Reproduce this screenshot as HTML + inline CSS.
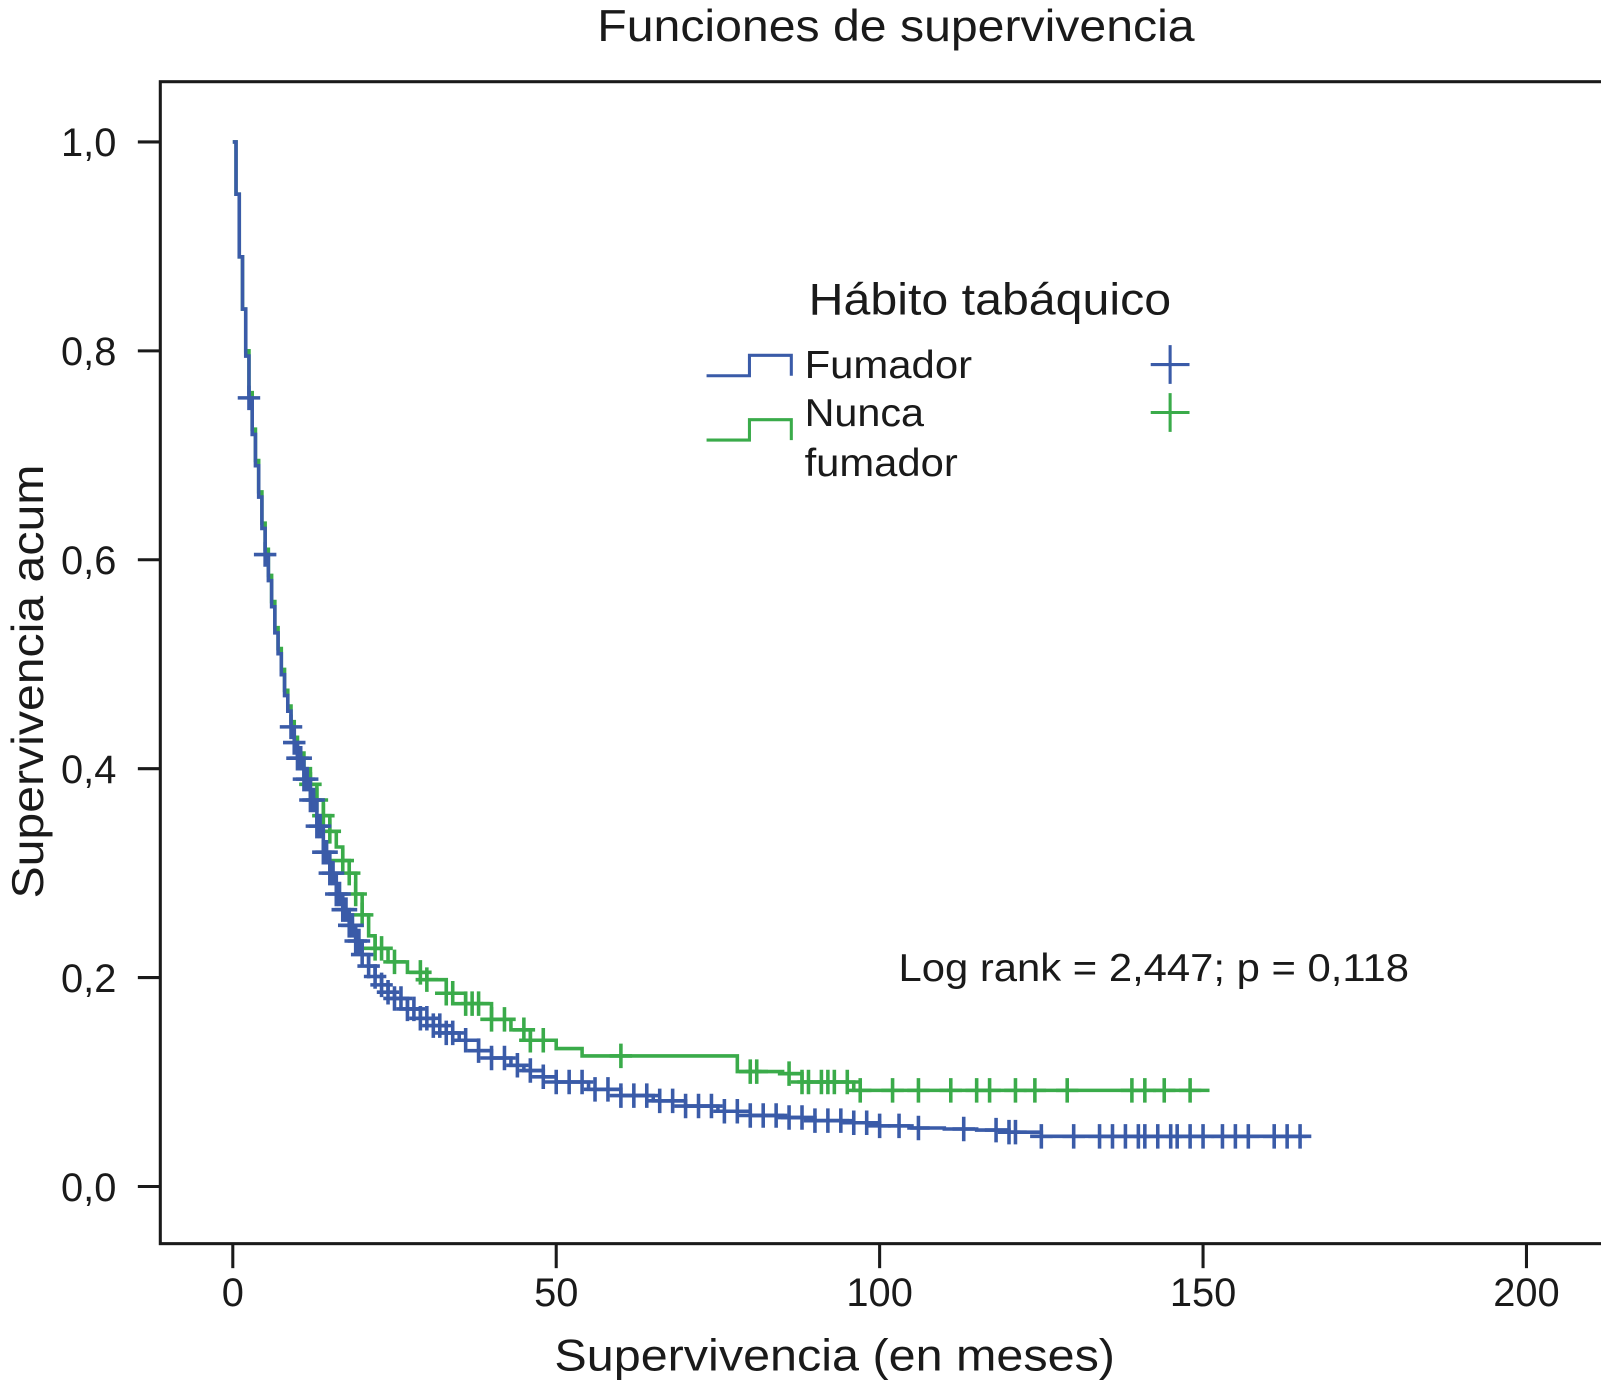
<!DOCTYPE html>
<html><head><meta charset="utf-8"><style>
html,body{margin:0;padding:0;background:#fff}
svg{display:block}
text{font-family:"Liberation Sans",Arial,sans-serif;fill:#1a1a1a}
</style></head><body>
<svg id="chart" width="1601" height="1381" viewBox="0 0 1568 1352.5" xmlns="http://www.w3.org/2000/svg">
<text x="585" y="40" font-size="44" textLength="585" lengthAdjust="spacingAndGlyphs">Funciones de supervivencia</text>
<rect x="157" y="80" width="1420" height="1138" fill="none" stroke="#1a1a1a" stroke-width="3"/>
<g id="axes"></g>
<g id="curves"></g>
<text x="543" y="1342" font-size="44" textLength="549" lengthAdjust="spacingAndGlyphs">Supervivencia (en meses)</text>
<text transform="translate(42,880) rotate(-90)" font-size="44" textLength="425" lengthAdjust="spacingAndGlyphs">Supervivencia acum</text>
<g>
<text x="792" y="308" font-size="44" textLength="355" lengthAdjust="spacingAndGlyphs">Hábito tabáquico</text>
<path d="M692,368 H734 V348 H775 V368" fill="none" stroke="#3a5ba8" stroke-width="3"/>
<text x="788" y="370" font-size="38" textLength="164" lengthAdjust="spacingAndGlyphs">Fumador</text>
<path d="M1127,357 H1165 M1146,338 V376" stroke="#3a5ba8" stroke-width="3"/>
<path d="M692,431 H734 V411 H775 V431" fill="none" stroke="#3aab4a" stroke-width="3"/>
<text x="788" y="417" font-size="38" textLength="117" lengthAdjust="spacingAndGlyphs">Nunca</text>
<text x="788" y="466" font-size="38" textLength="150" lengthAdjust="spacingAndGlyphs">fumador</text>
<path d="M1127,404 H1165 M1146,385 V423" stroke="#3aab4a" stroke-width="3"/>
</g>
<text x="880" y="961" font-size="38" textLength="500" lengthAdjust="spacingAndGlyphs">Log rank = 2,447; p = 0,118</text>
</svg>
<script>
const xTicks=[0,50,100,150,200];
const yTicks=[0,0.2,0.4,0.6,0.8,1.0];
const yTickLabels=["0,0","0,2","0,4","0,6","0,8","1,0"];
const fumTimes=[0,0.5,1,1.5,2,2.5,3,3.5,4,4.5,5,5.5,6,6.5,7,7.5,8,8.5,9,9.5,10,11,12,13,14,15,16,17,18,19,20,21,22,23,24,25,27,29,31,33,35,38,40,43,45,48,50,55,60,65,70,75,80,85,90,95,100,105,110,115,120,125,166];
const fumSurv=[1.0,0.95,0.89,0.84,0.795,0.755,0.72,0.69,0.66,0.63,0.605,0.58,0.555,0.53,0.51,0.49,0.47,0.455,0.44,0.425,0.41,0.39,0.37,0.345,0.32,0.30,0.28,0.265,0.25,0.235,0.222,0.211,0.201,0.193,0.186,0.18,0.17,0.161,0.154,0.147,0.14,0.13,0.123,0.116,0.111,0.105,0.10,0.093,0.087,0.082,0.077,0.072,0.068,0.066,0.063,0.061,0.058,0.056,0.055,0.054,0.052,0.048,0.048];
const nunTimes=[0,0.5,1,1.5,2,2.5,3,3.5,4,4.5,5,5.5,6,6.5,7,7.5,8,8.5,9,9.5,10,11,12,13,14,15,16,17,18,19,20,21,22,24,27,30,33,36,40,43,46,50,54,77,78,85,88,96,151];
const nunSurv=[1.0,0.95,0.89,0.84,0.80,0.76,0.725,0.695,0.665,0.635,0.61,0.585,0.56,0.535,0.515,0.495,0.475,0.46,0.445,0.43,0.415,0.40,0.385,0.37,0.355,0.34,0.325,0.312,0.30,0.28,0.26,0.24,0.228,0.215,0.205,0.198,0.185,0.175,0.16,0.15,0.14,0.132,0.125,0.125,0.11,0.108,0.1,0.092,0.092];
const fumCensor=[2.5,5,9,9.5,10,10.5,11,11.5,12,12.5,13,13.5,14,14.5,15,15.5,16,16.5,17,17.5,18,18.5,19,19.5,20,21,22,23,24,25,26,27,28,29,30,31,32,33,34,36,38,40,42,44,46,48,50,52,54,56,58,60,62,64,66,68,70,72,74,76,78,80,82,84,86,88,90,92,94,96,98,100,103,106,113,118,120,121,125,130,134,136,138,140,141,143,145,146,148,150,153,155,157,161,163,165];
const nunCensor=[12,13,14,15,17,18,19,20,22,23,25,29,30,33,34,36,37,38,40,42,45,46,48,60,80,81,86,88,89,91,92,93,95,97,102,106,111,115,117,121,124,129,139,141,144,148];
const X=t=>228+t*(1495-228)/200;
const Y=s=>1162-s*(1162-139);
const NS="http://www.w3.org/2000/svg";
const axes=document.getElementById('axes');
const curves=document.getElementById('curves');
function mk(tag,attrs,parent){const e=document.createElementNS(NS,tag);for(const k in attrs)e.setAttribute(k,attrs[k]);parent.appendChild(e);return e;}
xTicks.forEach(v=>{
 const l=mk('line',{x1:X(v),x2:X(v),y1:1218,y2:1242,stroke:'#1a1a1a','stroke-width':3},axes);
 
 
 const t=mk('text',{x:X(v),y:1279,'font-size':39,'text-anchor':'middle'},axes);
 t.textContent=v;
 
 
});
yTicks.forEach((v,i)=>{
 const l=mk('line',{x1:135,x2:157,y1:Y(v),y2:Y(v),stroke:'#1a1a1a','stroke-width':3},axes);
 
 
 const t=mk('text',{x:114,y:Y(v)+14,'font-size':39,'text-anchor':'end'},axes);
 t.textContent=yTickLabels[i];
 
 
});
function surv(times,vals,t){let s=vals[0];for(let i=0;i<times.length;i++){if(times[i]<=t)s=vals[i];}return s;}
function drawCurve(times,vals,cens,color,name){
 let d='M'+X(times[0])+','+Y(vals[0]);
 for(let i=1;i<times.length;i++){d+=' H'+X(times[i])+' V'+Y(vals[i]);}
 const p=mk('path',{d:d,fill:'none',stroke:color,'stroke-width':3.5},curves);
 
 
 cens.forEach(t=>{
  const x=X(t),y=Y(surv(times,vals,t));
  const c=mk('path',{d:`M${x-11},${y} H${x+11} M${x},${y-12} V${y+12}`,stroke:color,'stroke-width':3.5},curves);
  
  
 });
}
drawCurve(nunTimes,nunSurv,nunCensor,'#3aab4a','nunca-fumador');
drawCurve(fumTimes,fumSurv,fumCensor,'#3a5ba8','fumador');
</script>
</body></html>
